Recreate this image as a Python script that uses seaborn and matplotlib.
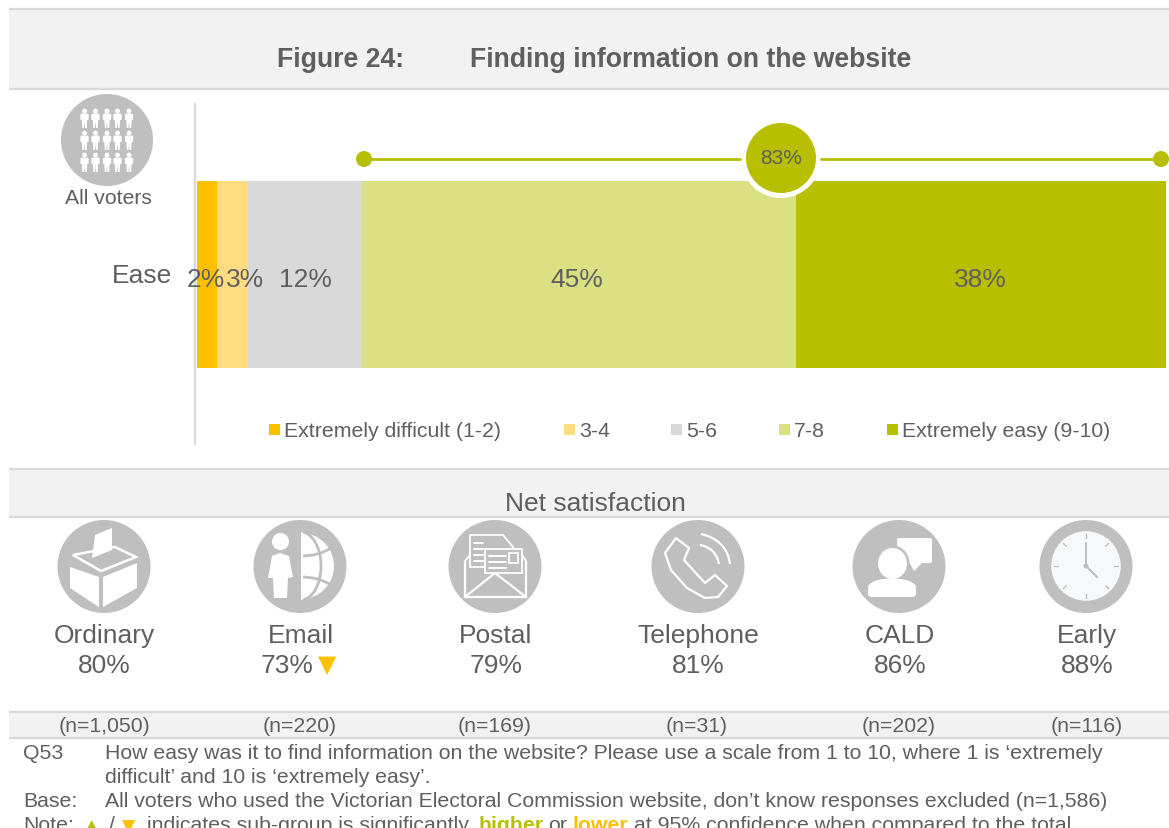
import numpy as np
import seaborn as sns
import matplotlib.pyplot as plt
from matplotlib.patches import Circle, Ellipse, FancyBboxPatch, Polygon, Rectangle, Wedge, PathPatch
from matplotlib.path import Path

# data
bands = ['Extremely difficult (1-2)', '3-4', '5-6', '7-8', 'Extremely easy (9-10)']
ease_values = [2.1, 3.2, 11.8, 44.7, 38.2]
ease_labels = ['2%', '3%', '12%', '45%', '38%']
band_colors = ['#FFC000', '#FFDC7F', '#D9D9D9', '#DBE083', '#B7BF00']
label_nudge = [-0.1, 1.3, 0, -0.2, 0]
net_total = '83%'
groups = ['Ordinary', 'Email', 'Postal', 'Telephone', 'CALD', 'Early']
group_values = ['80%', '73%', '79%', '81%', '86%', '88%']
group_ns = ['(n=1,050)', '(n=220)', '(n=169)', '(n=31)', '(n=202)', '(n=116)']

TXT = '#5F5F5F'
GREEN = '#B7BF00'
AMBER = '#FFC000'
BAND = '#F2F2F2'
RULE = '#D9D9D9'
ICON = '#BFBFBF'
W, H = 1169, 829

sns.set_theme(style='white')
plt.rcParams['font.family'] = ['Liberation Sans', 'DejaVu Sans']

fig = plt.figure(figsize=(W / 100, H / 100), dpi=100, facecolor='white')


def px_axes(z):
    a = fig.add_axes([0, 0, 1, 1], zorder=z)
    a.set_xlim(0, W)
    a.set_ylim(H - 1, -1)
    a.axis('off')
    a.patch.set_alpha(0)
    return a


back = px_axes(0)
front = px_axes(2)


def band(y0, y1):
    back.add_patch(Rectangle((9, y0), W - 9, y1 - y0, fc=BAND, ec='none'))
    back.plot([9, W], [y0, y0], color=RULE, lw=1.6, solid_capstyle='butt')
    back.plot([9, W], [y1, y1], color=RULE, lw=1.6, solid_capstyle='butt')


band(9, 88.5)
band(468.5, 516.5)
band(712, 737.5)
back.plot([195, 195], [104, 444], color=RULE, lw=1.6)

back.text(404, 59, 'Figure 24:', fontsize=19.15, fontweight='bold', color=TXT, ha='right', va='center')
back.text(470, 59, 'Finding information on the website', fontsize=19.15, fontweight='bold', color=TXT, ha='left', va='center')

# stacked bar
ax = fig.add_axes([196.5 / W, 1 - 368.5 / H, 969.5 / W, 187 / H], zorder=1)
start = 0
for val, col, lab, nudge in zip(ease_values, band_colors, ease_labels, label_nudge):
    sns.barplot(x=[val], y=['Ease'], left=start, color=col, saturation=1, width=1, linewidth=0, ax=ax)
    ax.text(start + val / 2 + nudge, 0.025, lab, fontsize=19, color=TXT, ha='center', va='center')
    start += val
ax.set_xlim(0, 100)
ax.set_ylim(0.5, -0.5)
ax.axis('off')
ax.patch.set_alpha(0)
back.text(172, 275, 'Ease', fontsize=19, color=TXT, ha='right', va='center')

# net bracket
front.plot([364, 740], [159, 159], color=GREEN, lw=2)
front.plot([821, 1161], [159, 159], color=GREEN, lw=2)
front.add_patch(Circle((364, 159), 8, fc=GREEN, ec='none'))
front.add_patch(Circle((1161, 159), 8, fc=GREEN, ec='none'))
front.add_patch(Circle((781, 158), 40, fc='white', ec='none'))
front.add_patch(Circle((781, 158), 35, fc=GREEN, ec='none'))
front.text(781, 158, net_total, fontsize=15, color=TXT, ha='center', va='center')

# legend
for x0, col, lab in zip([269, 564, 671, 779, 887], band_colors, bands):
    back.add_patch(Rectangle((x0, 424), 11, 11, fc=col, ec='none'))
    back.text(x0 + 15, 431, lab, fontsize=15.3, color=TXT, ha='left', va='center')

back.text(595, 503, 'Net satisfaction', fontsize=19, color=TXT, ha='center', va='center')


def person(cx, cy):
    front.add_patch(Circle((cx, cy - 7), 2.4, fc='white', ec='none'))
    front.add_patch(Polygon([(cx - 3, cy - 4.5), (cx + 3, cy - 4.5), (cx + 4.3, cy - 3), (cx + 4, cy + 2), (cx + 2.7, cy + 2),
                             (cx + 2.2, cy + 10), (cx + 0.5, cy + 10), (cx, cy + 3), (cx - 0.5, cy + 10),
                             (cx - 2.2, cy + 10), (cx - 2.7, cy + 2), (cx - 4, cy + 2), (cx - 4.3, cy - 3)], fc='white', ec='none'))


front.add_patch(Circle((107, 140), 46, fc=ICON, ec='none'))
for cy in [118, 140, 162]:
    for cx in [84.5, 95.5, 107, 117.5, 129]:
        person(cx, cy)
back.text(108, 198, 'All voters', fontsize=15.2, color=TXT, ha='center', va='center')


def icon_ballot(c):
    a = c - 104
    front.add_patch(Polygon([(70 + a, 567), (99 + a, 577), (99 + a, 607), (70 + a, 588)], fc='white', ec='none'))
    front.add_patch(Polygon([(103 + a, 577), (137 + a, 563), (137 + a, 588), (103 + a, 607)], fc='white', ec='none'))
    front.add_patch(Polygon([(73 + a, 555), (101 + a, 571), (136 + a, 557), (115 + a, 547)], fc='none', ec='white', lw=1.8))
    front.add_patch(Polygon([(95 + a, 535), (112 + a, 528), (112 + a, 550), (92 + a, 558)], fc='white', ec='none'))


def icon_email(c):
    a = c - 300
    gx, gy = 301 + a, 566
    front.add_patch(Wedge((gx, gy), 33, -90, 90, fc='white', ec='none'))
    front.add_patch(Ellipse((gx, gy), 40, 68, fc='none', ec=ICON, lw=2))
    front.add_patch(Rectangle((gx - 22, gy - 36), 22, 72, fc=ICON, ec='none'))
    front.plot([gx + 1, gx + 1], [533, 599], color='white', lw=1.5)
    front.add_patch(PathPatch(Path([(gx, 556), (gx + 18, 556), (gx + 30, 548)], [1, 3, 3]), fc='none', ec=ICON, lw=2))
    front.add_patch(PathPatch(Path([(gx, 577), (gx + 18, 577), (gx + 30, 585)], [1, 3, 3]), fc='none', ec=ICON, lw=2))
    front.add_patch(Circle((280.5 + a, 541.5), 8.5, fc='white', ec='none'))
    front.add_patch(Polygon([(268 + a, 578), (272 + a, 556), (280 + a, 553), (289 + a, 556), (293 + a, 577),
                             (288 + a, 578), (287 + a, 598), (274 + a, 598), (273 + a, 578)], fc='white', ec='none'))


def icon_post(c):
    a = c - 495
    front.add_patch(Polygon([(470 + a, 535), (503 + a, 535), (513 + a, 547), (513 + a, 567), (470 + a, 567)],
                            fc=ICON, ec='white', lw=1.3))
    for yy in [543, 549, 555, 561]:
        front.plot([474 + a, 483 + a], [yy, yy], color='white', lw=1.4)
    front.add_patch(Rectangle((485 + a, 549), 37, 24, fc=ICON, ec='white', lw=1.3))
    for yy in [556, 562, 568]:
        front.plot([489 + a, 506 + a], [yy, yy], color='white', lw=1.4)
    front.add_patch(Rectangle((509 + a, 553), 9, 10, fc=ICON, ec='white', lw=1.3))
    front.add_patch(Polygon([(465 + a, 561), (465 + a, 597), (526 + a, 597), (526 + a, 561)], closed=False, fc='none', ec='white', lw=1.6))
    front.plot([465 + a, 495 + a, 526 + a], [597, 573, 597], color='white', lw=1.6)
    front.plot([465 + a, 470 + a], [561, 555], color='white', lw=1.3)
    front.plot([526 + a, 522 + a], [561, 555], color='white', lw=1.3)


def icon_phone(c):
    a = c - 698
    outline = [(665, 553), (676, 538), (689, 548), (684, 560), (705, 583), (715, 575),
               (727, 586), (718, 597), (705, 598), (687, 588), (671, 570)]
    front.add_patch(Polygon([(x + a, y) for x, y in outline], fc=ICON, ec='white', lw=1.6, joinstyle='round'))
    front.add_patch(PathPatch(Path([(700 + a, 545), (716 + a, 548), (719 + a, 564)], [1, 3, 3]), fc='none', ec='white', lw=1.6))
    front.add_patch(PathPatch(Path([(701 + a, 534), (727 + a, 540), (730 + a, 564)], [1, 3, 3]), fc='none', ec='white', lw=1.6))


def icon_cald(c):
    a = c - 899
    front.add_patch(FancyBboxPatch((898 + a, 539), 33, 23, boxstyle='round,pad=1,rounding_size=2', fc='white', ec='none'))
    front.add_patch(Polygon([(908 + a, 560), (922 + a, 563), (914 + a, 571)], fc='white', ec='none'))
    front.add_patch(Ellipse((892.5 + a, 563.5), 34, 36, fc=ICON, ec='none'))
    front.add_patch(Ellipse((892.5 + a, 563.5), 29, 31, fc='white', ec='none'))
    front.add_patch(Ellipse((892 + a, 587), 48, 17, fc='white', ec='none'))
    front.add_patch(FancyBboxPatch((871 + a, 588), 42, 6, boxstyle='round,pad=3,rounding_size=4', fc='white', ec='none'))


def icon_clock(c):
    cy = 566
    front.add_patch(Circle((c, cy), 34.8, fc='#F7F8FA', ec='none'))
    for ang in np.arange(0, 360, 45):
        dx, dy = np.sin(np.radians(ang)), -np.cos(np.radians(ang))
        front.plot([c + 28 * dx, c + 32 * dx], [cy + 28 * dy, cy + 32 * dy], color=ICON, lw=1)
    front.plot([c, c], [cy, 543], color=ICON, lw=1.4)
    front.plot([c, c + 11], [cy, 577], color=ICON, lw=1.6)
    front.add_patch(Circle((c, cy), 2.5, fc=ICON, ec='none'))


icons = [icon_ballot, icon_email, icon_post, icon_phone, icon_cald, icon_clock]
centres = [104, 300, 495, 698, 899, 1086]
text_centres = [104, 301, 496, 698, 900, 1087]
n_centres = [104, 300, 495, 697, 899, 1087]
for c, tc, nc, g, v, n, draw in zip(centres, text_centres, n_centres, groups, group_values, group_ns, icons):
    front.add_patch(Circle((c, 566.5), 46.5, fc=ICON, ec='none'))
    draw(c)
    back.text(tc, 635, g, fontsize=19, color=TXT, ha='center', va='center')
    # the Email value sits left to make room for its arrow
    vx = 287 if g == 'Email' else tc
    back.text(vx, 665, v, fontsize=19, color=TXT, ha='center', va='center')
    back.text(nc, 726, n, fontsize=15.3, color=TXT, ha='center', va='center')
back.text(327, 664, '▼', fontsize=17, color=AMBER, ha='center', va='center', family='DejaVu Sans')

# footnotes
fs = 15.35
back.text(23, 758, 'Q53', fontsize=fs, color=TXT)
back.text(105, 758, 'How easy was it to find information on the website? Please use a scale from 1 to 10, where 1 is ‘extremely', fontsize=fs, color=TXT)
back.text(105, 782.5, 'difficult’ and 10 is ‘extremely easy’.', fontsize=fs, color=TXT)
back.text(23, 806.5, 'Base:', fontsize=fs, color=TXT)
back.text(105, 806.5, 'All voters who used the Victorian Electoral Commission website, don’t know responses excluded (n=1,586)', fontsize=fs, color=TXT)
note_y = 830.5
back.text(23, note_y, 'Note:', fontsize=fs, color=TXT)
back.text(85, note_y, '▲', fontsize=12.5, color=GREEN, family='DejaVu Sans')
back.text(109, note_y, '/', fontsize=fs, color=TXT)
back.text(122, note_y, '▼', fontsize=12.5, color=AMBER, family='DejaVu Sans')
back.text(147, note_y, 'indicates sub-group is significantly', fontsize=fs, color=TXT)
back.text(478, note_y, 'higher', fontsize=fs, color=GREEN, fontweight='bold')
back.text(548, note_y, 'or', fontsize=fs, color=TXT)
back.text(573, note_y, 'lower', fontsize=fs, color=AMBER, fontweight='bold')
back.text(634, note_y, 'at 95% confidence when compared to the total', fontsize=fs, color=TXT)

fig.savefig('out.png', dpi=100)
